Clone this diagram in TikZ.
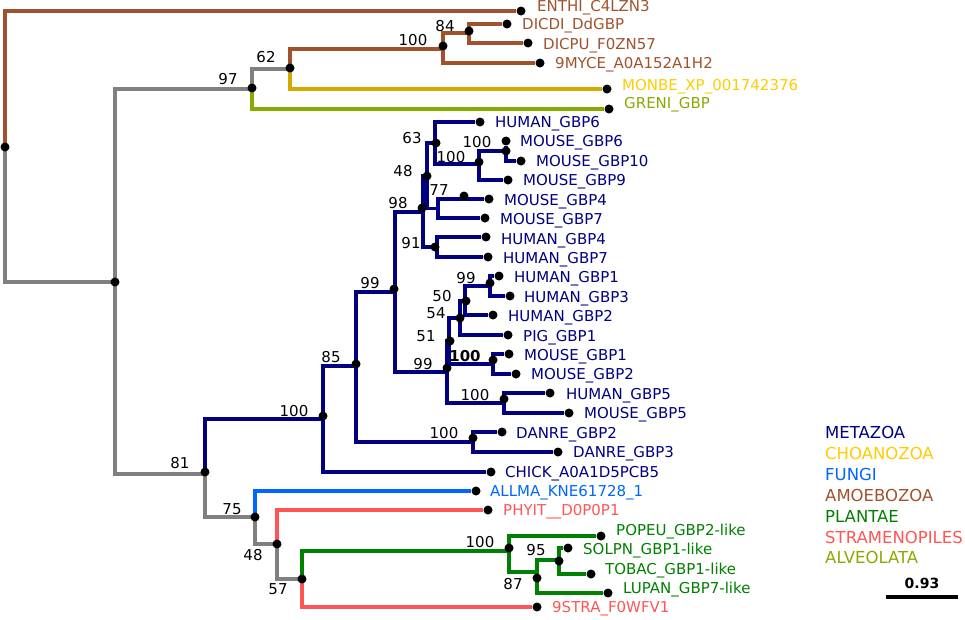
\documentclass[tikz,border=0pt]{standalone}
\usepackage{fontspec}
\setmainfont{DejaVu Sans}
\definecolor{metazoa}{RGB}{0,0,128}
\definecolor{choano}{RGB}{255,204,0}
\definecolor{choanoline}{RGB}{212,170,0}
\definecolor{fungi}{RGB}{0,102,255}
\definecolor{amoebo}{RGB}{160,82,45}
\definecolor{plantae}{RGB}{0,128,0}
\definecolor{strameno}{RGB}{255,85,85}
\definecolor{alveo}{RGB}{136,170,0}
\definecolor{basal}{RGB}{128,128,128}

\begin{document}
\begin{tikzpicture}[x=1pt,y=-1pt,
    br/.style={line width=3.2pt},
    dot/.style={circle,fill=black,inner sep=0pt,minimum size=9pt},
    leaf/.style={anchor=west,inner sep=0pt,text height=11pt,text depth=0pt,font=\fontsize{15}{18}\selectfont},
    bs/.style={inner sep=0pt,text height=10.5pt,text depth=0pt,font=\fontsize{15}{18}\selectfont},
    key/.style={anchor=west,inner sep=0pt,text height=12pt,text depth=0pt,font=\fontsize{16.5}{20}\selectfont}]
    \useasboundingbox (0,0) rectangle (965,619);

    \coordinate (root) at (5,147);
    \coordinate (n115) at (115,282);
    \coordinate (n97) at (252,89);
    \coordinate (n62) at (290,69);
    \coordinate (nam) at (443,49);
    \coordinate (n84) at (469,33);
    \coordinate (n81) at (205,474);
    \coordinate (nmet) at (323,419);
    \coordinate (n85) at (356,366);
    \coordinate (n99a) at (395,292);
    \coordinate (n98) at (423,212);
    \coordinate (n48m) at (427,176);
    \coordinate (n63) at (435,143);
    \coordinate (n100a) at (479,164);
    \coordinate (n100b) at (506,151);
    \coordinate (n77) at (438,208.5);
    \coordinate (n91) at (437,247);
    \coordinate (n99b) at (447,372);
    \coordinate (n51) at (449,341);
    \coordinate (n54) at (460,318);
    \coordinate (n50) at (465,301);
    \coordinate (n99c) at (490,286);
    \coordinate (n100c) at (493,364);
    \coordinate (n100d) at (504,403);
    \coordinate (n100e) at (473,442);
    \coordinate (n75) at (255,517);
    \coordinate (n48) at (277,544);
    \coordinate (n57) at (302,579);
    \coordinate (npl) at (509,551);
    \coordinate (n87) at (537,572);
    \coordinate (n95) at (559,560);

    \node[dot] (enthi) at (521,11) {};
    \node[dot] (dicdi) at (507,24) {};
    \node[dot] (dicpu) at (528,43) {};
    \node[dot] (myce) at (540,63) {};
    \node[dot] (monbe) at (607,89) {};
    \node[dot] (greni) at (609,109) {};
    \node[dot] (hgbp6) at (480,122) {};
    \node[dot] (mgbp6) at (506,141) {};
    \node[dot] (mgbp10) at (521,161) {};
    \node[dot] (mgbp9) at (508,180) {};
    \node[dot] (mgbp4) at (489,199) {};
    \node[dot] (mgbp7) at (485,218) {};
    \node[dot] (hgbp4) at (486,237) {};
    \node[dot] (hgbp7) at (488,257) {};
    \node[dot] (hgbp1) at (499,276) {};
    \node[dot] (hgbp3) at (510,296) {};
    \node[dot] (hgbp2) at (493,315) {};
    \node[dot] (pig) at (508,335) {};
    \node[dot] (mgbp1) at (509,354) {};
    \node[dot] (mgbp2) at (516,374) {};
    \node[dot] (hgbp5) at (550,393) {};
    \node[dot] (mgbp5) at (569,413) {};
    \node[dot] (danre2) at (502,432) {};
    \node[dot] (danre3) at (558,452) {};
    \node[dot] (chick) at (491,472) {};
    \node[dot] (allma) at (476,491) {};
    \node[dot] (phyit) at (488,510) {};
    \node[dot] (popeu) at (601,536) {};
    \node[dot] (solpn) at (568,548) {};
    \node[dot] (tobac) at (591,574) {};
    \node[dot] (lupan) at (608,593) {};
    \node[dot] (stra) at (537,607) {};

    \draw[br,amoebo] (root) |- (enthi);
    \draw[br,basal] (root) |- (n115);
    \draw[br,basal] (n115) |- (n97);
    \draw[br,basal] (n115) |- (n81);
    \draw[br,basal] (n97) |- (n62);
    \draw[br,alveo] (n97) |- (greni);
    \draw[br,amoebo] (n62) |- (nam);
    \draw[br,choanoline] (n62) |- (monbe);
    \draw[br,amoebo] (nam) |- (n84);
    \draw[br,amoebo] (nam) |- (myce);
    \draw[br,amoebo] (n84) |- (dicdi);
    \draw[br,amoebo] (n84) |- (dicpu);
    \draw[br,metazoa] (n81) |- (nmet);
    \draw[br,basal] (n81) |- (n75);
    \draw[br,metazoa] (nmet) |- (n85);
    \draw[br,metazoa] (nmet) |- (chick);
    \draw[br,metazoa] (n85) |- (n99a);
    \draw[br,metazoa] (n85) |- (n100e);
    \draw[br,metazoa] (n100e) |- (danre2);
    \draw[br,metazoa] (n100e) |- (danre3);
    \draw[br,metazoa] (n99a) |- (n98);
    \draw[br,metazoa] (n99a) |- (n99b);
    \draw[br,metazoa] (n98) |- (n48m);
    \draw[br,metazoa] (n98) |- (n91);
    \draw[br,metazoa] (n48m) |- (n63);
    \draw[br,metazoa] (n48m) |- (n77);
    \draw[br,metazoa] (n63) |- (hgbp6);
    \draw[br,metazoa] (n63) |- (n100a);
    \draw[br,metazoa] (n100a) |- (n100b);
    \draw[br,metazoa] (n100a) |- (mgbp9);
    \draw[br,metazoa] (n100b) -- (mgbp6);
    \draw[br,metazoa] (n100b) |- (mgbp10);
    \draw[br,metazoa] (n77) |- (mgbp4);
    \draw[br,metazoa] (n77) |- (mgbp7);
    \draw[br,metazoa] (n91) |- (hgbp4);
    \draw[br,metazoa] (n91) |- (hgbp7);
    \draw[br,metazoa] (n99b) |- (n51);
    \draw[br,metazoa] (n99b) |- (n100d);
    \draw[br,metazoa] (n51) |- (n54);
    \draw[br,metazoa] (n51) |- (n100c);
    \draw[br,metazoa] (n54) |- (n50);
    \draw[br,metazoa] (n54) |- (pig);
    \draw[br,metazoa] (n50) |- (n99c);
    \draw[br,metazoa] (n50) |- (hgbp2);
    \draw[br,metazoa] (n99c) |- (hgbp1);
    \draw[br,metazoa] (n99c) |- (hgbp3);
    \draw[br,metazoa] (n100c) |- (mgbp1);
    \draw[br,metazoa] (n100c) |- (mgbp2);
    \draw[br,metazoa] (n100d) |- (hgbp5);
    \draw[br,metazoa] (n100d) |- (mgbp5);
    \draw[br,fungi] (n75) |- (allma);
    \draw[br,basal] (n75) |- (n48);
    \draw[br,strameno] (n48) |- (phyit);
    \draw[br,basal] (n48) |- (n57);
    \draw[br,plantae] (n57) |- (npl);
    \draw[br,strameno] (n57) |- (stra);
    \draw[br,plantae] (npl) |- (popeu);
    \draw[br,plantae] (npl) |- (n87);
    \draw[br,plantae] (n87) |- (n95);
    \draw[br,plantae] (n87) |- (lupan);
    \draw[br,plantae] (n95) |- (solpn);
    \draw[br,plantae] (n95) |- (tobac);

    \node[dot] (droot) at (5,147) {};
    \node[dot] (d115) at (115,282) {};
    \node[dot] (d97) at (252,88) {};
    \node[dot] (d62) at (290,68) {};
    \node[dot] (dam) at (443,46) {};
    \node[dot] (d84) at (469,31) {};
    \node[dot] (d81) at (205,472) {};
    \node[dot] (dmet) at (323,416) {};
    \node[dot] (d85) at (356,364) {};
    \node[dot] (d99a) at (394,289) {};
    \node[dot] (d98) at (422,208) {};
    \node[dot] (d48m) at (427,176) {};
    \node[dot] (d63) at (436,143) {};
    \node[dot] (d100a) at (479,162) {};
    \node[dot] (d100b) at (506,151) {};
    \node[dot] (d77) at (464,196) {};
    \node[dot] (d91) at (435,247) {};
    \node[dot] (d99b) at (447,368) {};
    \node[dot] (d51) at (450,341) {};
    \node[dot] (d54) at (460,318) {};
    \node[dot] (d50) at (466,301) {};
    \node[dot] (d99c) at (490,283) {};
    \node[dot] (d100c) at (493,360) {};
    \node[dot] (d100d) at (504,399) {};
    \node[dot] (d100e) at (473,438) {};
    \node[dot] (d75) at (255,517) {};
    \node[dot] (d48) at (277,544) {};
    \node[dot] (d57) at (302,579) {};
    \node[dot] (dpl) at (509,548) {};
    \node[dot] (d87) at (537,578) {};
    \node[dot] (d95) at (559,561) {};

    \node[bs] (b97) at (228,79) {97};
    \node[bs] (b62) at (266,57) {62};
    \node[bs] (bam) at (413,40) {100};
    \node[bs] (b84) at (445,26) {84};
    \node[bs] (b81) at (180,463) {81};
    \node[bs] (bmet) at (294,411) {100};
    \node[bs] (b85) at (331,357) {85};
    \node[bs] (b99a) at (370,283) {99};
    \node[bs] (b98) at (398,203) {98};
    \node[bs] (b48m) at (403,171) {48};
    \node[bs] (b63) at (412,138) {63};
    \node[bs] (b100a) at (451,157) {100};
    \node[bs] (b100b) at (477,142) {100};
    \node[bs] (b77) at (439,190) {77};
    \node[bs] (b91) at (411,243) {91};
    \node[bs] (b99b) at (423,364) {99};
    \node[bs] (b51) at (426,336) {51};
    \node[bs] (b54) at (436,313) {54};
    \node[bs] (b50) at (442,296) {50};
    \node[bs] (b99c) at (466,278) {99};
    \node[bs,font=\fontsize{15}{18}\selectfont\bfseries] (b100c) at (465,356) {100};
    \node[bs] (b100d) at (475,395) {100};
    \node[bs] (b100e) at (444,433) {100};
    \node[bs] (b75) at (232,509) {75};
    \node[bs] (b48) at (253,555) {48};
    \node[bs] (b57) at (278,589) {57};
    \node[bs] (bpl) at (480,542) {100};
    \node[bs] (b87) at (513,584) {87};
    \node[bs] (b95) at (536,550) {95};

    \node[leaf,text=amoebo] (tenthi) at (537,6) {ENTHI\_C4LZN3};
    \node[leaf,text=amoebo] (tdicdi) at (522,24) {DICDI\_DdGBP};
    \node[leaf,text=amoebo] (tdicpu) at (543,44) {DICPU\_F0ZN57};
    \node[leaf,text=amoebo] (tmyce) at (555,63) {9MYCE\_A0A152A1H2};
    \node[leaf,text=choano] (tmonbe) at (622,85) {MONBE\_XP\_001742376};
    \node[leaf,text=alveo] (tgreni) at (624,103) {GRENI\_GBP};
    \node[leaf,text=metazoa] (thgbp6) at (495,122) {HUMAN\_GBP6};
    \node[leaf,text=metazoa] (tmgbp6) at (520,141) {MOUSE\_GBP6};
    \node[leaf,text=metazoa] (tmgbp10) at (536,161) {MOUSE\_GBP10};
    \node[leaf,text=metazoa] (tmgbp9) at (523,180) {MOUSE\_GBP9};
    \node[leaf,text=metazoa] (tmgbp4) at (504,200) {MOUSE\_GBP4};
    \node[leaf,text=metazoa] (tmgbp7) at (500,219) {MOUSE\_GBP7};
    \node[leaf,text=metazoa] (thgbp4) at (501,239) {HUMAN\_GBP4};
    \node[leaf,text=metazoa] (thgbp7) at (503,258) {HUMAN\_GBP7};
    \node[leaf,text=metazoa] (thgbp1) at (514,277) {HUMAN\_GBP1};
    \node[leaf,text=metazoa] (thgbp3) at (524,297) {HUMAN\_GBP3};
    \node[leaf,text=metazoa] (thgbp2) at (508,316) {HUMAN\_GBP2};
    \node[leaf,text=metazoa] (tpig) at (523,336) {PIG\_GBP1};
    \node[leaf,text=metazoa] (tmgbp1) at (524,355) {MOUSE\_GBP1};
    \node[leaf,text=metazoa] (tmgbp2) at (531,374) {MOUSE\_GBP2};
    \node[leaf,text=metazoa] (thgbp5) at (566,394) {HUMAN\_GBP5};
    \node[leaf,text=metazoa] (tmgbp5) at (584,413) {MOUSE\_GBP5};
    \node[leaf,text=metazoa] (tdanre2) at (516,433) {DANRE\_GBP2};
    \node[leaf,text=metazoa] (tdanre3) at (573,452) {DANRE\_GBP3};
    \node[leaf,text=metazoa] (tchick) at (505,472) {CHICK\_A0A1D5PCB5};
    \node[leaf,text=fungi] (tallma) at (490,491) {ALLMA\_KNE61728\_1};
    \node[leaf,text=strameno] (tphyit) at (503,510) {PHYIT\_\_D0P0P1};
    \node[leaf,text=plantae] (tpopeu) at (616,530) {POPEU\_GBP2-like};
    \node[leaf,text=plantae] (tsolpn) at (583,549) {SOLPN\_GBP1-like};
    \node[leaf,text=plantae] (ttobac) at (605,569) {TOBAC\_GBP1-like};
    \node[leaf,text=plantae] (tlupan) at (623,588) {LUPAN\_GBP7-like};
    \node[leaf,text=strameno] (tstra) at (552,607) {9STRA\_F0WFV1};

    \node[key,text=metazoa] (kmet) at (825,432) {METAZOA};
    \node[key,text=choano] (kcho) at (825,453) {CHOANOZOA};
    \node[key,text=fungi] (kfun) at (825,474) {FUNGI};
    \node[key,text=amoebo] (kamo) at (825,495) {AMOEBOZOA};
    \node[key,text=plantae] (kpla) at (825,516) {PLANTAE};
    \node[key,text=strameno] (kstr) at (825,537) {STRAMENOPILES};
    \node[key,text=alveo] (kalv) at (825,557) {ALVEOLATA};

    \coordinate (sbl) at (886,597);
    \coordinate (sbr) at (958,597);
    \draw[br] (sbl) -- (sbr);
    \node[bs,font=\fontsize{14}{17}\selectfont\bfseries] (sblab) at (922,583) {0.93};
\end{tikzpicture}
\end{document}
